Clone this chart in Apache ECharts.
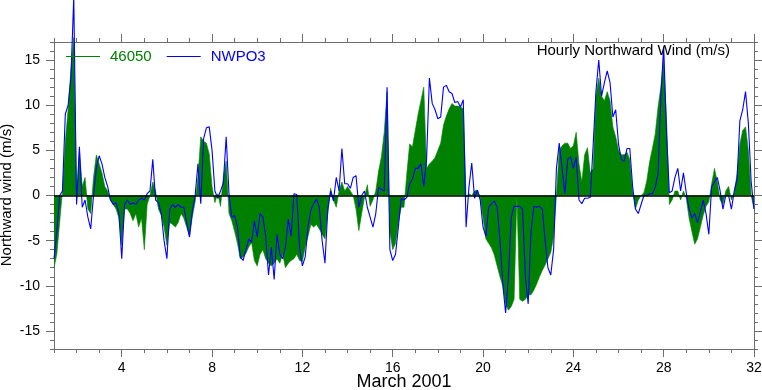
<!DOCTYPE html>
<html>
<head>
<meta charset="utf-8">
<script src="https://cdn.jsdelivr.net/npm/echarts@6/dist/echarts.min.js"></script>
<style>
html,body{margin:0;padding:0;background:#fff;}
#chart{width:762px;height:390px;}
</style>
</head>
<body>
<div id="chart"></div>
<script>
// 3-hourly samples starting 1 March 00h, ending 32 (= 1 April 00h)
var stepsPerDay = 8;
var startDay = 1;

var buoy46050 = [
  -8, -6.5, -3, 0.5, 6, 9.5, 14, 17.5,
  -0.5, 5, 1, 2, -1.5, -2, 2, 4.5,
  3.5, 2.5, 1, 0.5, -0.5, -1, -1.5, -2.5,
  -5.5, -1.5, -1.5, -2, -2.8, -2, -3.5, -2.5,
  -6, -1, 0, 1.5, 0.5, -1.5, -2.2, -3.5,
  -5.5, -3, -3.2, -3.5, -3, -2, -2.5, -3.5,
  -4.5, -2.4, -0.7, 2, 6.5, 6, 5.8, 4.6,
  1, -0.8, 0.2, -1.2, 2, 3.8, -2, -2.8,
  -4, -5.3, -7, -6.8, -6.4, -5.7, -5.2, -7.2,
  -7.8, -6.5, -6, -7, -7.5, -7.8, -7.5, -7,
  -7.5, -6.5, -8, -7.5, -7.2, -7, -6.5, -7.2,
  -7.3, -5.7, -4.5, -3.2, -3.5, -3.2, -3.7, -4.3,
  -4.8, -2, 0.8, -0.5, -1.3, 0.5, 1.5, 0.5,
  1, 0.5, 0, -1.5, -3.9, -2, -0.2, 1.2,
  -1.2, -0.5, 0.5, 2.7, 4.3, 7, 11.5, -4,
  -6, -5.3, -3, -1.3, -1.3, 2.4, 5.7, 5.4,
  7.2, 9, 10.5, 12, 3, 3.5, 3.8, 4.2,
  5, 5.8, 7.8, 8.8, 9.6, 10.2, 9.9, 9.9,
  9.8, 9.6, -0.2, 0.2, 0, 0.5, 0.6, -0.2,
  -2.4, -4.8, -5.3, -5.8, -6.6, -7.8, -9, -10,
  -12, -12.7, -12.3, -11.5, 0, -11.5, -11.7, -11.5,
  -11, -11, -10.5, -9.8, -9, -8.3, -7.7, -7,
  -6.3, -4.5, 0, 5, 5.5, 5.8, 5.8, 5.2,
  5.5, 7, 3.5, 1.5, 4.5, 5.3, 2.5, 3,
  11, 13, 11, 10.5, 11.5, 10.5, 7.6, 6.5,
  5, 4.5, 4.5, 4.8, 4, 0.5, -1.5, -0.5,
  0, 0.3, 1.6, 3.7, 5.2, 6.8, 9.8, 12,
  15, 8.3, -1, -0.5, 0.5, 0.5, -0.5, 0.5,
  -0.3, -2.5, -4, -5.4, -4.8, -3.5, -2.2, -1.2,
  -0.7, 1.3, 3, 1.5, -0.5, -1, 0.5, 1,
  -0.5, 0.3, 2.4, 5.7, 7.2, 7.6, 5, 0,
  -1.5
];

var stationNWPO3 = [
  -7, -4, 0, 0.5, 9, 10, 13, 22,
  -1, 5.4, -1.3, -0.5, -2.4, -3.7, 0, 3,
  4.4, 3.5, 2, 1, -0.5, -1, -0.8, -2,
  -7, -1, -0.5, -1, -0.8, -1, -0.5, -0.3,
  -0.5, 0.2, 0.5, 4, -0.5, -0.8, -2, -5,
  -7, -1.5, -1, -1.3, -1, -1.3, -1.3, -3,
  -4.6, -1.7, 0, 3.5, -0.9, 6.3, 7.5, 7.6,
  5, 0.5, -0.3, 0.5, 1.4, 6.5, 0.2, -2.4,
  -2.2, -3.5, -6.8, -7.2, -6, -4.8, -5.2, -2.8,
  -4.6, -2, -2.4, -4.5, -8.8, -5.7, -9.3, -4.3,
  -6.5, -7, -5.7, -2.6, -4.5, 0.2, 0.1, -5.8,
  -7.8, -6.8, -3.4, -1.6, -0.9, -0.4, -1.3, -5,
  -7.5, -1.5, 0.5, -0.6, 2, 0.5, 5.2, 1.3,
  1.3, 0.8, 2, 2.2, -1.3, 0, 0.5, -1.3,
  -2.4, -3.5, -2, 0.9, 0.7, 0.5, 12, -6,
  -7.2, -6.5, -3.5, -0.3, -0.5, -0.2, 1.3, 1.8,
  3, 3, 3.5, 1, 4, 13, 10.2, 9.5,
  8.5, 8.7, 12, 12.2, 11.5, 11.3, 10.3, 10.4,
  9.8, 10.6, -3.5, 0.9, 3.6, -0.3, 0.6, -0.5,
  -3.5, -4.5, -1.3, -0.9, -0.6, -1.3, -5, -9.8,
  -13, -9, -2.4, -1.2, -1.2, -1.2, -1.5, -9,
  -12, -4, -1.2, -1.3, -1.2, -1.5, -5, -8,
  -8.8, -6, 3, 5.8, 3, 0.2, 4, 4.3,
  3, 4.2, -0.5, -0.9, -0.3, -0.3, -0.2, 5.5,
  11.5, 15, 11, 12.5, 13.8, 12.5, 8.7, 9.5,
  5.7, 4, 3.8, 5.2, 5.2, 1, -1.5, -2,
  -1, 0, 0, 0.2, 0.2, 0.9, 2.4, 11,
  16.5, 7, 0.3, 0.5, 2, 3, 0.5, 2.5,
  0.3, -1.5, -2.5, -2, -3, -1.8, -0.5, -2,
  -4.3, 1, 1.5, 2, 0.5, -1.5, 0, 0,
  -1.5, 0.5, 1.8, 8.3, 9.5, 11.5, 8, 1.5,
  -1.5
];

var seriesNames = ['46050', 'NWPO3'];
var xMajorTicks = [4, 8, 12, 16, 20, 24, 28, 32];
var yMajorTicks = [-15, -10, -5, 0, 5, 10, 15];
var xTitle = 'March 2001';
var yTitle = 'Northward wind (m/s)';
var chartTitle = 'Hourly Northward Wind (m/s)';

function toPairs(vals) {
  return vals.map(function (v, i) { return [startDay + i / stepsPerDay, v]; });
}

var FONT = 'Liberation Sans';
var AX = '#6e6e6e';

function xAx(pos, major, labels, line) {
  return {
    type: 'value', position: pos, min: 1, max: 32,
    interval: major ? undefined : 1,
    axisLine: { show: line, onZero: false, lineStyle: { color: AX, width: 1 } },
    axisTick: major
      ? { show: true, inside: false, length: 8, customValues: xMajorTicks, lineStyle: { color: AX } }
      : { show: true, inside: false, length: 4, lineStyle: { color: AX } },
    axisLabel: labels
      ? { show: true, margin: 12, color: '#000', fontSize: 14, fontFamily: FONT,
          formatter: function (v) { return (Math.round(v) % 4 === 0) ? String(Math.round(v)) : ''; } }
      : { show: false },
    splitLine: { show: false }
  };
}
function yAx(pos, major, labels, line) {
  return {
    type: 'value', position: pos, min: -17, max: 17,
    interval: major ? undefined : 1,
    axisLine: { show: line, onZero: false, lineStyle: { color: AX, width: 1 } },
    axisTick: major
      ? { show: true, inside: false, length: 8, customValues: yMajorTicks, lineStyle: { color: AX } }
      : { show: true, inside: false, length: 4, lineStyle: { color: AX } },
    axisLabel: labels
      ? { show: true, margin: 14, color: '#000', fontSize: 14, fontFamily: FONT,
          formatter: function (v) { var r = Math.round(v); return (r % 5 === 0) ? String(r) : ''; } }
      : { show: false },
    splitLine: { show: false }
  };
}

var xAxes = [xAx('bottom', false, true, true), xAx('bottom', true, false, false),
             xAx('top', false, false, true), xAx('top', true, false, false)];
var yAxes = [yAx('left', false, true, true), yAx('left', true, false, false),
             yAx('right', false, false, true), yAx('right', true, false, false)];

var chart = echarts.init(document.getElementById('chart'), null, { renderer: 'canvas' });
chart.setOption({
  animation: false,
  backgroundColor: '#fff',
  textStyle: { fontFamily: FONT },
  title: {
    text: chartTitle, right: 32, top: 43, padding: 0,
    textStyle: { fontSize: 15, fontWeight: 'normal', color: '#000', fontFamily: FONT }
  },
  legend: {
    left: 66, top: 49, padding: 0,
    icon: 'rect', itemWidth: 34, itemHeight: 1.2, itemGap: 15,
    textStyle: { fontSize: 15, fontFamily: FONT, padding: [0, 0, 0, 5] },
    data: [
      { name: seriesNames[0], textStyle: { color: '#008000' } },
      { name: seriesNames[1], textStyle: { color: '#0000ff' } }
    ]
  },
  graphic: [
    { type: 'text', x: 404, y: 382, silent: true,
      style: { text: xTitle, font: '18px "Liberation Sans"', fill: '#000', textAlign: 'center', textVerticalAlign: 'middle' } },
    { type: 'text', x: 7, y: 195, rotation: Math.PI / 2, silent: true,
      style: { text: yTitle, font: '15px "Liberation Sans"', fill: '#000', textAlign: 'center', textVerticalAlign: 'middle' } }
  ],
  grid: { left: 54, top: 42, width: 700, height: 307, containLabel: false, outerBoundsMode: 'none' },
  xAxis: xAxes,
  yAxis: yAxes,
  series: [
    {
      name: seriesNames[0], type: 'line', xAxisIndex: 0, yAxisIndex: 0,
      data: toPairs(buoy46050), showSymbol: false, clip: false,
      color: '#008000',
      lineStyle: { color: '#008000', width: 0.6 },
      areaStyle: { color: '#008000', opacity: 1 }
    },
    {
      name: seriesNames[1], type: 'line', xAxisIndex: 0, yAxisIndex: 0,
      data: toPairs(stationNWPO3), showSymbol: false, clip: false,
      color: '#0000ff',
      lineStyle: { color: '#0000ff', width: 1.1 },
      markLine: {
        silent: true, symbol: 'none', animation: false,
        label: { show: false },
        lineStyle: { color: '#000', width: 1.5, type: 'solid' },
        data: [{ yAxis: 0 }]
      }
    }
  ]
});
</script>
</body>
</html>
